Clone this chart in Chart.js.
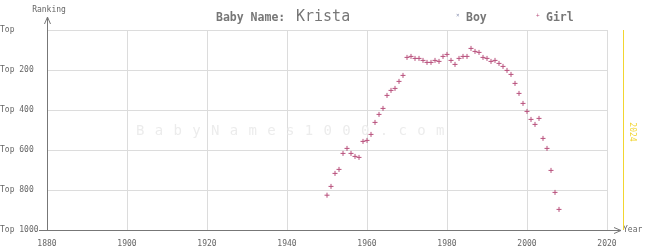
<!DOCTYPE html>
<html>
<head>
<meta charset="utf-8">
<script src="https://cdn.jsdelivr.net/npm/chart.js@4/dist/chart.umd.min.js"></script>
<style>
	html, body { margin: 0; padding: 0; background: #fff; }
	canvas { display: block; }
</style>
</head>
<body>
<canvas id="chart" width="645" height="250"></canvas>
<script>
// Ranks (1 = most popular), Girl series only
const girlYears = [
	1950, 1951, 1952, 1953, 1954, 1955, 1956, 1957, 1958, 1959,
	1960, 1961, 1962, 1963, 1964, 1965, 1966, 1967, 1968, 1969,
	1970, 1971, 1972, 1973, 1974, 1975, 1976, 1977, 1978, 1979,
	1980, 1981, 1982, 1983, 1984, 1985, 1986, 1987, 1988, 1989,
	1990, 1991, 1992, 1993, 1994, 1995, 1996, 1997, 1998, 1999,
	2000, 2001, 2002, 2003, 2004, 2005, 2006, 2007, 2008
];
const girlRanks = [
	826, 782, 717, 697, 617, 592, 617, 632, 637, 557,
	552, 522, 462, 422, 392, 327, 302, 292, 257, 227,
	137, 132, 142, 142, 152, 162, 162, 152, 157, 132,
	122, 152, 172, 142, 132, 132, 92, 107, 112, 137,
	142, 157, 152, 167, 182, 202, 222, 267, 317, 367,
	407, 447, 472, 442, 542, 592, 702, 812, 897
];
const boyYears = [];
const boyRanks = [];

const yearTicks = [1880, 1900, 1920, 1940, 1960, 1980, 2000, 2020];
const rankTicks = [0, 200, 400, 600, 800, 1000];
const currentYear = 2024;

const mono = "'DejaVu Sans Mono', monospace";
const boyColor = "#8890b0";
const girlColor = "#b8507c";

function toPoints(xs, ys) {
	return xs.map(function (x, i) { return { x: x, y: ys[i] }; });
}

// everything the library does not draw: arrows, labels, title, watermark
const decorations = {
	id: "decorations",
	beforeDatasetsDraw: function (chart) {
		const ctx = chart.ctx;
		ctx.save();
		ctx.font = "14px " + mono;
		ctx.fillStyle = "#ececec";
		ctx.textBaseline = "middle";
		const mark = "BabyNames1000.com";
		for (let i = 0; i < mark.length; i++) {
			ctx.fillText(mark[i], 136 + i * 18.75, 131);
		}
		ctx.restore();
	},
	afterDraw: function (chart) {
		const ctx = chart.ctx;
		const area = chart.chartArea;
		const xs = chart.scales.x;
		ctx.save();

		// axes with arrow heads
		ctx.strokeStyle = "#777";
		ctx.lineWidth = 1;
		ctx.beginPath();
		ctx.moveTo(area.left + 0.5, area.bottom);
		ctx.lineTo(area.left + 0.5, 17);
		ctx.moveTo(area.left - 2.5, 24);
		ctx.lineTo(area.left + 0.5, 17);
		ctx.lineTo(area.left + 3.5, 24);
		ctx.moveTo(39, area.bottom + 0.5);
		ctx.lineTo(621, area.bottom + 0.5);
		ctx.moveTo(614, area.bottom - 2.5);
		ctx.lineTo(621, area.bottom + 0.5);
		ctx.lineTo(614, area.bottom + 3.5);
		ctx.stroke();

		ctx.fillStyle = "#666";
		ctx.font = "8px " + mono;
		ctx.textBaseline = "middle";
		ctx.textAlign = "center";
		ctx.fillText("Ranking", 49, 10);
		ctx.textAlign = "left";
		ctx.fillText("Year", 623, area.bottom);

		// current year marker
		const cx = Math.round(xs.getPixelForValue(currentYear)) + 0.5;
		ctx.strokeStyle = "#f2d530";
		ctx.beginPath();
		ctx.moveTo(cx, area.top);
		ctx.lineTo(cx, area.bottom);
		ctx.stroke();
		ctx.save();
		ctx.translate(cx + 9, 132);
		ctx.rotate(Math.PI / 2);
		ctx.fillStyle = "#f2d530";
		ctx.textAlign = "center";
		ctx.fillText(String(currentYear), 0, 0);
		ctx.restore();

		// title
		ctx.textBaseline = "alphabetic";
		ctx.textAlign = "left";
		ctx.fillStyle = "#777";
		ctx.font = "bold 11.5px " + mono;
		ctx.fillText("Baby Name:", 216, 21);
		ctx.font = "15px " + mono;
		ctx.fillText("Krista", 296, 21);

		// legend
		ctx.font = "6px " + mono;
		ctx.fillStyle = boyColor;
		ctx.fillText("\u00d7", 456, 17);
		ctx.fillStyle = girlColor;
		ctx.fillText("+", 536, 17);
		ctx.font = "bold 11.5px " + mono;
		ctx.fillStyle = "#777";
		ctx.fillText("Boy", 466, 21);
		ctx.fillText("Girl", 546, 21);

		ctx.restore();
	}
};

const ctx = document.getElementById("chart");
const chart = new Chart(ctx, {
	type: "scatter",
	data: {
		datasets: [
			{
				label: "Boy",
				data: toPoints(boyYears, boyRanks),
				pointStyle: "crossRot",
				pointRadius: 2.5,
				borderColor: boyColor,
				borderWidth: 1
			},
			{
				label: "Girl",
				data: toPoints(girlYears, girlRanks),
				pointStyle: "cross",
				pointRadius: 2.5,
				borderColor: girlColor,
				backgroundColor: girlColor,
				borderWidth: 1
			}
		]
	},
	plugins: [decorations],
	options: {
		responsive: false,
		devicePixelRatio: 1,
		animation: false,
		layout: { padding: { left: 0, top: 30, right: 38, bottom: 0 } },
		plugins: {
			legend: { display: false },
			title: { display: false },
			tooltip: { enabled: false }
		},
		scales: {
			x: {
				type: "linear",
				min: yearTicks[0],
				max: yearTicks[yearTicks.length - 1],
				afterBuildTicks: function (s) {
					s.ticks = yearTicks.map(function (v) { return { value: v }; });
				},
				afterFit: function (s) { s.height = 20; },
				border: { display: false },
				grid: { color: "#dcdcdc", drawTicks: false },
				ticks: {
					color: "#666",
					font: { family: mono, size: 8 },
					padding: 9,
					maxRotation: 0,
					callback: function (v) { return String(v); }
				}
			},
			y: {
				reverse: true,
				min: rankTicks[0],
				max: rankTicks[rankTicks.length - 1],
				afterBuildTicks: function (s) {
					s.ticks = rankTicks.map(function (v) { return { value: v }; });
				},
				afterFit: function (s) { s.width = 47; },
				border: { display: false },
				grid: { color: "#dcdcdc", drawTicks: false },
				ticks: {
					color: "#666",
					font: { family: mono, size: 8 },
					crossAlign: "far",
					callback: function (v) { return v === 0 ? "Top" : "Top " + v; }
				}
			}
		}
	}
});
</script>
</body>
</html>
